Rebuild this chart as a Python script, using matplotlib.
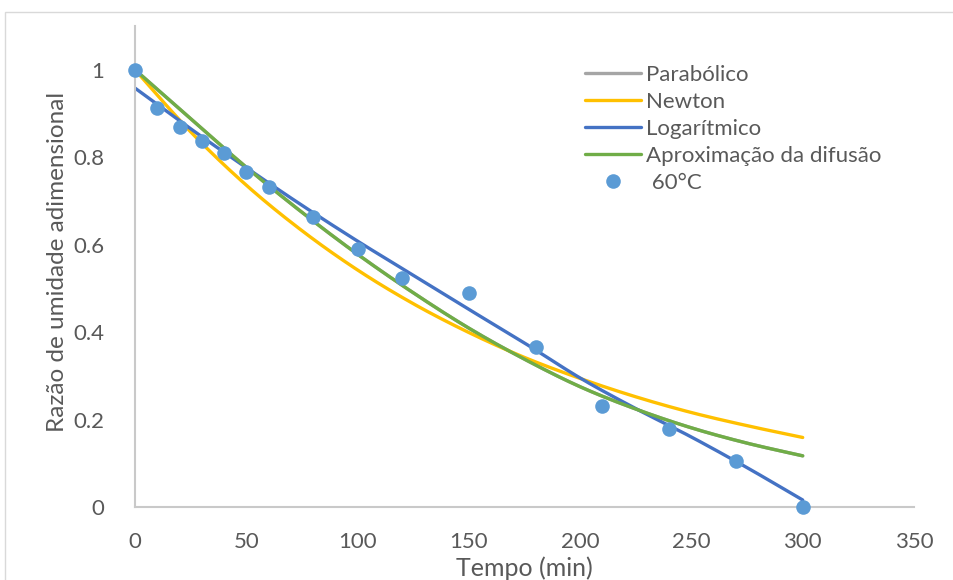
import numpy as np
import matplotlib
matplotlib.use("Agg")
import matplotlib.pyplot as plt
from matplotlib.patches import Rectangle

plt.rcParams["font.family"] = ["Lato", "DejaVu Sans"]

# measured points, 60 C
t_obs = [0, 10, 20, 30, 40, 50, 60, 80, 100, 120, 150, 180, 210, 240, 270, 300]
mr_obs = [1.0, 0.912, 0.868, 0.838, 0.809, 0.765, 0.731, 0.664, 0.590, 0.523,
          0.490, 0.367, 0.231, 0.179, 0.105, 0.0]

# model curves
t_fit = [0, 25, 50, 75, 100, 125, 150, 175, 200, 225, 250, 275, 300]
mr_newton = [1.0, 0.858, 0.736, 0.632, 0.542, 0.465, 0.399, 0.342, 0.294, 0.252, 0.216, 0.186, 0.159]
mr_log = [0.958, 0.865, 0.776, 0.690, 0.608, 0.530, 0.452, 0.375, 0.295, 0.225, 0.160, 0.090, 0.016]
mr_diff = [1.0, 0.888, 0.777, 0.674, 0.578, 0.490, 0.409, 0.338, 0.275, 0.224, 0.181, 0.146, 0.117]
mr_parab = [1.0, 0.888, 0.777, 0.674, 0.578, 0.490, 0.409, 0.338, 0.275, 0.224, 0.181, 0.146, 0.117]

grey = '#A5A5A5'
yellow = '#FFC000'
blue = '#4472C4'
green = '#70AD47'
dot = '#5B9BD5'
axis_c = '#C9C9C9'
txt = '#595959'

def smooth(x, y):
    # Catmull-Rom style smoothing like Excel smoothed lines
    x = np.asarray(x, float); y = np.asarray(y, float)
    xs, ys = [], []
    for i in range(len(x) - 1):
        p0 = i - 1 if i > 0 else i
        p3 = i + 2 if i + 2 < len(x) else i + 1
        s = np.linspace(0, 1, 20, endpoint=False)
        for arr, out in ((x, xs), (y, ys)):
            P0, P1, P2, P3 = arr[p0], arr[i], arr[i + 1], arr[p3]
            m1 = (P2 - P0) / 2.
            m2 = (P3 - P1) / 2.
            h00 = 2*s**3 - 3*s**2 + 1
            h10 = s**3 - 2*s**2 + s
            h01 = -2*s**3 + 3*s**2
            h11 = s**3 - s**2
            out.extend(h00*P1 + h10*m1 + h01*P2 + h11*m2)
    xs.append(x[-1]); ys.append(y[-1])
    return np.array(xs), np.array(ys)

fig = plt.figure(figsize=(9.54, 5.8), dpi=100)
fig.patches.append(Rectangle((5/954., -0.1), 1.2, 1 - 12/580. + 0.1, transform=fig.transFigure,
                             fill=False, edgecolor='#D9D9D9', lw=1.0))
ax = fig.add_axes([135/954., 1 - 507/580., (914 - 135)/954., (507 - 26)/580.])

lw = 2.4
ax.plot(*smooth(t_fit, mr_parab), color=grey, lw=lw, label='Parabólico', solid_capstyle='round')
ax.plot(*smooth(t_fit, mr_newton), color=yellow, lw=lw, label='Newton', solid_capstyle='round')
ax.plot(*smooth(t_fit, mr_log), color=blue, lw=lw, label='Logarítmico', solid_capstyle='round')
ax.plot(*smooth(t_fit, mr_diff), color=green, lw=lw, label='Aproximação da difusão', solid_capstyle='round')
ax.plot(t_obs, mr_obs, 'o', color=dot, ms=10.5, mec='none', label=' 60°C', clip_on=False, zorder=5)

ax.set_xlim(0, 350)
ax.set_ylim(0, 1.1)
ax.set_xticks(np.arange(0, 351, 50))
ax.set_yticks([0, 0.2, 0.4, 0.6, 0.8, 1.0])
ax.set_yticklabels(['0', '0.2', '0.4', '0.6', '0.8', '1'])
ax.tick_params(length=0, labelsize=16, colors=txt)
ax.tick_params(axis='x', pad=18)
ax.tick_params(axis='y', pad=22)

for s in ['top', 'right']:
    ax.spines[s].set_visible(False)
for s in ['left', 'bottom']:
    ax.spines[s].set_color(axis_c)
    ax.spines[s].set_linewidth(1.5)

ax.set_xlabel('Tempo (min)', fontsize=18, color=txt)
ax.xaxis.set_label_coords(0.5, -0.102)
ax.set_ylabel('Razão de umidade adimensional', fontsize=17.5, color=txt)
ax.yaxis.set_label_coords(-0.086, 0.51)

leg = ax.legend(loc='upper left', bbox_to_anchor=((585 - 135)/779., (507 - 65)/481.),
                frameon=False, fontsize=16, handlelength=2.5, handletextpad=0.25,
                labelspacing=0.31, borderaxespad=0, borderpad=0)
for t in leg.get_texts():
    t.set_color(txt)

fig.savefig('out.png', dpi=100)
